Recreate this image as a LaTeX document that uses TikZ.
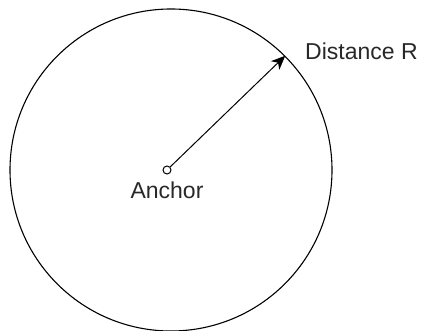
\documentclass[tikz,border=0pt]{standalone}
\usepackage{fontspec}
\setmainfont{Liberation Sans}
\usetikzlibrary{arrows.meta}
\definecolor{txt}{RGB}{40,40,40}
\begin{document}
\begin{tikzpicture}[x=1pt,y=-1pt,
  lbl/.style={inner sep=0pt,text=txt,font=\fontsize{23}{28}\selectfont},
  ringshape/.style={draw=black,circle,line width=1.1pt,minimum size=322pt,inner sep=0pt},
  anchormark/.style={draw=black,circle,line width=1pt,minimum size=8pt,inner sep=0pt,fill=white},
  radius arrow/.style={draw=black,line width=1pt,-{Stealth[length=14pt,width=12pt,inset=4pt]}}]
\useasboundingbox (0,0) rectangle (426,331);
\node[ringshape] (ring) at (171,170) {};
\node[anchormark] (anc) at (167,170) {};
\draw[radius arrow] (anc) -- (ring.45);
\node[lbl,anchor=base] (anctext) at (167,199) {Anchor};
\node[lbl,anchor=base west] (dist) at (305,60) {Distance R};
\end{tikzpicture}
\end{document}
